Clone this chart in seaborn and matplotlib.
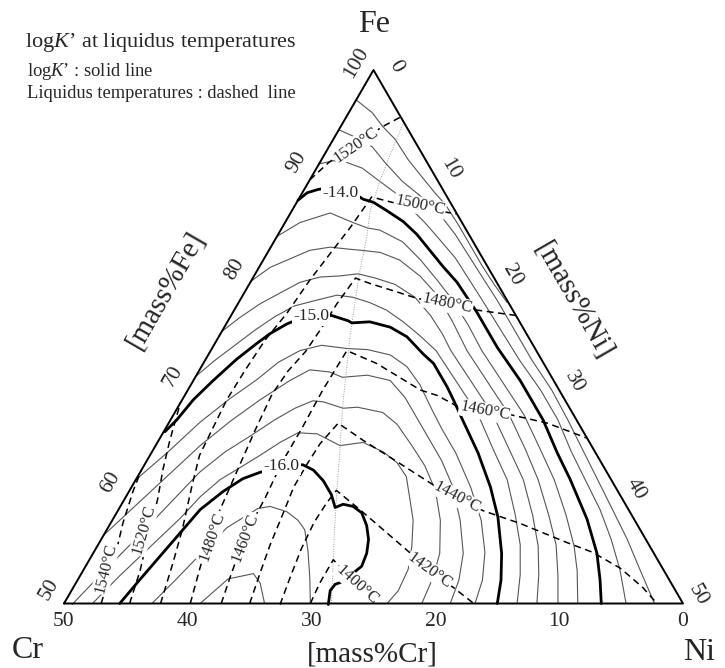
import numpy as np
import matplotlib
matplotlib.use("Agg")
import matplotlib.pyplot as plt
import seaborn as sns

# ---------------- data: compositions in mass% (Fe = balance) ----------------
# logK' contour lines (Cr, Ni)
k134_cr = [2.8, 2.1, 1.9, 1.5, 1.4, 1.1, 0.8, 0.5, 0.4, 0.4, 0.4, 0.3, 0.1]
k134_ni = [0.0, 1.9, 3.4, 5.0, 7.0, 8.9, 10.7, 12.1, 14.1, 16.0, 17.9, 19.8, 21.7]
k136_cr = [5.6, 4.6, 3.7, 3.4, 2.9, 1.9, 1.4, 1.1, 1.0, 0.9, 0.8, 0.8, 0.8, 0.6, 0.7, 0.9, 1.1, 1.3, 1.5, 1.9, 2.3]
k136_ni = [0.0, 1.7, 3.5, 5.3, 7.5, 10.3, 12.2, 14.3, 16.6, 18.8, 20.8, 23.5, 26.4, 29.4, 32.1, 34.7, 37.4, 40.0, 42.5, 45.0, 47.7]
k138_cr = [8.8, 7.5, 6.6, 5.5, 4.8, 4.0, 3.5, 3.0, 2.6, 2.2, 2.1, 2.0, 1.9, 1.8, 1.5, 1.5, 1.9, 2.1, 2.3, 2.8, 3.5, 4.6]
k138_ni = [0.0, 1.0, 2.0, 3.7, 5.5, 7.5, 9.4, 11.3, 13.3, 15.4, 17.4, 19.6, 22.5, 25.4, 28.5, 31.3, 33.8, 36.3, 38.9, 41.2, 43.3, 45.4]
k140_cr = [12.2, 11.1, 10.1, 9.0, 7.9, 7.3, 6.9, 6.2, 5.5, 4.7, 4.2, 3.9, 3.6, 3.2, 3.1, 3.0, 3.0, 2.7, 2.7, 3.1, 3.3, 3.8, 4.6, 5.6, 6.6]
k140_ni = [0.0, 0.4, 1.1, 2.0, 3.3, 4.3, 5.2, 6.2, 7.7, 9.5, 11.2, 13.0, 14.8, 16.7, 18.2, 19.7, 23.0, 26.4, 30.1, 32.8, 35.1, 38.3, 40.7, 42.2, 43.4]
k142_cr = [15.6, 13.1, 10.2, 8.8, 7.9, 7.0, 5.7, 5.1, 4.7, 4.4, 4.3, 4.4, 4.2, 4.0, 4.3, 4.6, 5.3, 6.1, 7.0, 8.5]
k142_ni = [0.0, 1.2, 3.2, 5.5, 6.9, 8.0, 10.4, 12.7, 15.0, 17.1, 19.6, 21.9, 25.1, 28.3, 31.2, 33.8, 36.4, 38.5, 39.9, 41.5]
k144_cr = [19.8, 17.6, 15.6, 13.6, 11.8, 10.3, 9.4, 8.0, 6.8, 5.9, 5.4, 5.4, 5.6, 5.4, 5.2, 5.5, 5.9, 6.7, 7.5, 8.8, 10.1]
k144_ni = [0.0, 0.9, 2.1, 3.3, 4.8, 6.5, 7.5, 9.1, 11.0, 13.4, 15.7, 18.1, 20.7, 23.9, 27.1, 30.0, 32.5, 35.0, 37.0, 38.6, 39.9]
k146_cr = [24.5, 22.4, 20.1, 18.0, 15.9, 14.0, 12.4, 10.8, 9.6, 8.3, 7.3, 6.9, 6.8, 6.9, 6.7, 6.5, 6.8, 7.1, 8.0, 9.0, 10.3, 11.8]
k146_ni = [0.0, 0.8, 1.8, 2.9, 4.0, 5.4, 6.9, 8.3, 9.9, 11.8, 14.0, 16.1, 17.9, 19.4, 22.6, 25.8, 28.6, 31.3, 33.7, 35.6, 37.0, 38.2]
k148_cr = [28.7, 26.4, 24.1, 21.8, 19.5, 17.4, 15.5, 13.5, 12.3, 11.2, 10.2, 9.4, 8.7, 8.1, 7.9, 7.7, 8.1, 8.4, 9.4, 10.4, 11.8, 13.4]
k148_ni = [0.0, 0.8, 1.7, 2.6, 3.6, 4.7, 6.1, 7.6, 9.0, 10.6, 12.3, 14.2, 16.2, 18.2, 21.4, 24.6, 27.4, 30.0, 32.3, 34.1, 35.5, 36.6]
k150_cr = [33.8, 32.3, 30.0, 27.5, 24.6, 22.2, 20.7, 18.9, 17.6, 16.2, 14.9, 13.8, 13.6, 12.1, 10.7, 9.8, 9.3, 8.9, 8.9, 9.0, 9.2, 9.5, 10.1, 10.9, 12.3, 13.6, 15.0]
k150_ni = [0.1, 0.5, 0.9, 1.6, 2.5, 3.4, 4.0, 4.9, 5.7, 6.8, 8.1, 9.7, 10.1, 11.5, 13.4, 15.2, 17.3, 18.6, 20.8, 21.9, 23.6, 26.4, 29.0, 31.0, 33.0, 34.2, 35.0]
k152_cr = [38.4, 34.5, 30.5, 27.0, 23.9, 21.4, 19.1, 17.1, 15.2, 13.6, 12.0, 11.2, 11.0, 11.2, 11.3, 11.3, 11.7, 12.4, 13.6, 15.1, 16.8]
k152_ni = [0.0, 1.3, 2.5, 3.8, 5.1, 6.0, 7.2, 8.7, 10.9, 12.6, 14.7, 16.6, 18.5, 20.7, 22.4, 24.6, 27.4, 29.8, 31.6, 32.7, 33.2]
k154_cr = [43.6, 37.6, 31.6, 28.0, 24.6, 21.3, 19.2, 17.7, 16.9, 14.8, 13.2, 12.8, 12.8, 12.8, 12.8, 13.1, 14.1, 15.4, 17.0, 18.8]
k154_ni = [0.0, 1.8, 3.6, 4.9, 6.3, 7.8, 8.9, 10.6, 11.9, 13.8, 15.9, 17.9, 20.0, 21.9, 23.8, 25.8, 28.1, 29.9, 30.8, 31.2]
k156_cr = [49.4, 45.3, 41.1, 37.0, 32.9, 29.9, 27.1, 24.4, 22.2, 20.4, 19.6, 18.3, 17.1, 15.3, 14.7, 14.5, 14.4, 14.7, 15.7, 17.3, 19.0, 21.1]
k156_ni = [0.7, 1.7, 2.8, 3.8, 4.8, 5.9, 7.2, 8.4, 9.5, 10.6, 11.5, 13.4, 14.5, 16.8, 18.5, 20.7, 22.7, 24.7, 26.5, 28.0, 28.6, 28.9]
k158_cr = [47.7, 44.2, 40.4, 36.6, 34.0, 31.6, 29.1, 27.2, 25.0, 23.1, 21.6, 20.3, 18.3, 17.1, 16.5, 16.4, 17.2, 17.9, 19.2, 20.6, 22.4, 23.9]
k158_ni = [2.3, 3.2, 4.3, 5.4, 6.0, 6.8, 8.0, 8.9, 9.9, 10.9, 12.5, 14.9, 16.6, 18.7, 20.3, 21.7, 23.1, 24.3, 25.4, 26.2, 26.4, 26.1]
k160_cr = [45.5, 42.8, 38.2, 34.6, 31.9, 29.7, 28.0, 26.0, 24.2, 23.6, 23.3, 23.3, 23.6, 22.8, 22.1, 21.7, 21.9, 22.4, 23.2, 24.2, 25.6, 26.6, 27.2, 27.9, 28.7]
k160_ni = [4.5, 5.0, 5.9, 6.6, 7.6, 8.6, 9.7, 11.1, 12.8, 13.9, 15.2, 16.5, 17.4, 17.9, 18.8, 19.8, 20.8, 21.6, 22.1, 22.3, 21.8, 21.4, 21.0, 20.9, 21.4]
k162_cr = [42.9, 39.9, 36.7, 33.3, 31.6, 29.9, 28.8, 27.7, 27.2, 27.1, 27.8, 28.9, 30.1]
k162_ni = [7.1, 7.9, 8.7, 9.6, 10.4, 11.2, 12.1, 13.7, 15.0, 16.0, 17.2, 18.6, 19.9]
k164_cr = [39.0, 35.6, 33.3, 33.2, 33.8]
k164_ni = [11.0, 12.1, 13.9, 14.9, 16.2]

# liquidus isotherms (Cr, Ni)
t1540_cr = [47.0, 44.1, 41.5, 39.1, 37.5]
t1540_ni = [3.0, 2.1, 1.0, 0.3, 0.0]
t1520a_cr = [44.7, 42.3, 39.5, 37.6, 35.7, 33.8, 31.2]
t1520a_ni = [5.3, 4.6, 3.4, 2.7, 1.7, 0.9, 0.0]
t1520b_cr = [10.3, 8.0, 6.1, 3.8, 1.7, 0.0]
t1520b_ni = [0.0, 0.7, 1.5, 2.5, 3.5, 4.4]
t1500_cr = [42.2, 39.3, 37.0, 34.1, 32.1, 29.7, 27.3, 24.4, 21.4, 18.4, 15.0, 12.1, 9.3, 6.1, 4.7, 2.7, 0.0]
t1500_ni = [7.8, 6.9, 6.1, 4.8, 4.0, 3.8, 3.6, 3.7, 3.9, 4.4, 4.7, 5.1, 5.5, 5.8, 7.7, 10.2, 13.5]
t1480_cr = [39.8, 37.3, 34.5, 32.2, 29.3, 26.3, 23.4, 21.0, 18.7, 16.2, 13.9, 11.2, 10.3, 8.5, 7.2, 5.0, 2.9, 0.0]
t1480_ni = [10.2, 9.3, 8.4, 8.1, 7.7, 7.3, 7.0, 7.2, 7.7, 7.9, 8.0, 8.3, 9.7, 12.3, 14.2, 16.9, 19.6, 23.0]
t1460_cr = [37.3, 35.4, 33.3, 31.1, 28.8, 25.8, 22.4, 19.1, 15.3, 13.5, 12.3, 11.2, 10.1, 9.0, 7.0, 5.1, 2.5, 0.0]
t1460_ni = [12.7, 12.2, 11.7, 11.4, 11.3, 11.0, 11.0, 10.9, 11.0, 14.0, 16.5, 18.8, 20.4, 22.5, 25.0, 27.2, 30.6, 34.5]
t1440_cr = [35.0, 32.7, 30.6, 28.2, 26.0, 23.8, 21.8, 19.4, 18.2, 16.8, 14.6, 13.3, 11.8, 9.4, 6.5, 4.9, 3.4, 2.5, 2.1]
t1440_ni = [15.0, 14.4, 13.9, 13.5, 13.1, 13.1, 13.2, 13.7, 16.5, 19.5, 24.3, 26.8, 29.5, 33.1, 37.8, 40.3, 43.3, 46.0, 47.9]
t1420_cr = [32.6, 30.3, 28.2, 26.0, 24.1, 22.7, 21.7, 20.6, 19.8, 18.9, 17.8, 16.9]
t1420_ni = [17.5, 17.0, 16.6, 16.4, 16.5, 16.7, 19.5, 22.8, 25.2, 28.0, 30.7, 33.1]
t1400_cr = [30.1, 28.4, 26.2, 25.5, 24.6]
t1400_ni = [19.9, 19.7, 19.7, 22.5, 25.4]

# primary-phase boundary (dotted)
phase_cr = [0.0, 2.0, 4.6, 6.8, 8.4, 10.5, 12.4, 14.4, 15.7, 18.3, 20.4, 22.6, 24.7, 26.2, 28.4]
phase_ni = [4.9, 5.2, 5.7, 6.3, 7.3, 8.3, 9.4, 10.6, 11.5, 13.3, 15.0, 16.7, 18.4, 19.7, 21.6]

# labels
klabel_text = ["-14.0", "-15.0", "-16.0"]
klabel_cr = [8.4, 16.6, 26.0]
klabel_ni = [3.1, 6.5, 11.1]
tlabel_text = ["1520°C", "1500°C", "1480°C", "1460°C", "1440°C", "1420°C", "1400°C",
               "1540°C", "1520°C", "1480°C", "1460°C"]
tlabel_cr = [4.9, 2.6, 5.0, 7.0, 13.3, 18.9, 25.5, 45.0, 40.1, 34.9, 32.3]
tlabel_ni = [2.1, 10.1, 16.9, 25.0, 26.8, 28.0, 22.8, 1.7, 3.0, 8.8, 11.5]

cr_ticks = [50, 40, 30, 20, 10, 0]
fe_ticks = [50, 60, 70, 80, 90, 100]
ni_ticks = [0, 10, 20, 30, 40, 50]

# ---------------- drawing ----------------
H = np.sqrt(3) / 2


def to_xy(cr, ni):
    cr = np.asarray(cr, float)
    ni = np.asarray(ni, float)
    return (50 - cr + ni) / 100, (50 - cr - ni) / 50 * H


sns.set_theme(style="white")
plt.rcParams['font.family'] = ['Liberation Serif', 'DejaVu Serif']
plt.rcParams['mathtext.fontset'] = 'custom'
plt.rcParams['mathtext.rm'] = 'Liberation Serif'
plt.rcParams['mathtext.it'] = 'Liberation Serif:italic'

fig = plt.figure(figsize=(7.25, 6.68), dpi=100)
ax = fig.add_axes([0, 0, 1, 1])
ax.set_xlim(-64 / 619, 661 / 619)
ax.set_ylim(-64.5 / 616, 603.5 / 616)
ax.axis('off')


def draw(cr, ni, **kw):
    x, y = to_xy(cr, ni)
    sns.lineplot(x=x, y=y, sort=False, estimator=None, ax=ax, legend=False, **kw)


thin = [(k134_cr, k134_ni), (k136_cr, k136_ni), (k138_cr, k138_ni),
        (k142_cr, k142_ni), (k144_cr, k144_ni), (k146_cr, k146_ni), (k148_cr, k148_ni),
        (k152_cr, k152_ni), (k154_cr, k154_ni), (k156_cr, k156_ni), (k158_cr, k158_ni),
        (k162_cr, k162_ni), (k164_cr, k164_ni)]
thick = [(k140_cr, k140_ni), (k150_cr, k150_ni), (k160_cr, k160_ni)]
dashed = [(t1540_cr, t1540_ni), (t1520a_cr, t1520a_ni), (t1520b_cr, t1520b_ni),
          (t1500_cr, t1500_ni), (t1480_cr, t1480_ni), (t1460_cr, t1460_ni),
          (t1440_cr, t1440_ni), (t1420_cr, t1420_ni), (t1400_cr, t1400_ni)]

for c, n in thin:
    draw(c, n, color='#555555', linewidth=0.8, zorder=2)
for c, n in thick:
    draw(c, n, color='black', linewidth=2.0, zorder=3)
draw(phase_cr, phase_ni, color='#9a9a9a', linewidth=0.7, linestyle=(0, (1, 1.5)), zorder=2)
for c, n in dashed:
    draw(c, n, color='black', linewidth=1.1, linestyle=(0, (4.5, 3)), zorder=3)

# triangle frame
draw([50, 0, 0, 50], [0, 50, 0, 0], color='black', linewidth=1.4, zorder=6)

# contour labels
lab_box = dict(facecolor='white', edgecolor='none', pad=1.0)
for t, c, n in zip(klabel_text, klabel_cr, klabel_ni):
    x, y = to_xy(c, n)
    ax.text(x, y, t, ha='center', va='center', fontsize=12.5, bbox=lab_box, zorder=5)

tlabel_rot = [35, -12, -12, -11, -28, -36, -42, 76, 74, 71, 69]
for t, c, n, r in zip(tlabel_text, tlabel_cr, tlabel_ni, tlabel_rot):
    x, y = to_xy(c, n)
    ax.text(x, y, t, ha='center', va='center', fontsize=12, rotation=r,
            rotation_mode='anchor', bbox=dict(facecolor='white', edgecolor='none', pad=0.6), zorder=5)

# tick labels
for v in cr_ticks:
    x, y = to_xy(v, 50 - v)
    ax.annotate(str(v), (x, y), xytext=(0, -18), textcoords='offset pixels',
                ha='center', va='center', fontsize=15.5)
for v in fe_ticks:
    x, y = to_xy(100 - v, 0)
    off = (-17, 7) if v == 100 else (-15, 14)
    ax.annotate(str(v), (x, y), xytext=off, textcoords='offset pixels',
                ha='center', va='center', fontsize=15.5, rotation=60)
for v in ni_ticks:
    x, y = to_xy(0, v)
    off = (22, 4) if v == 0 else (15, 8)
    ax.annotate(str(v), (x, y), xytext=off, textcoords='offset pixels',
                ha='center', va='center', fontsize=15.5, rotation=-60)

# corner and axis titles (pixel positions in the 725x668 canvas)
W, Hpx = 725.0, 668.0


def ftext(px, py, s, **kw):
    fig.text(px / W, 1 - py / Hpx, s, **kw)


ftext(374, 25, "Fe", ha='center', va='center', fontsize=23)
ftext(28, 651, "Cr", ha='center', va='center', fontsize=23)
ftext(699, 653, "Ni", ha='center', va='center', fontsize=23)
ftext(372, 654, "[mass%Cr]", ha='center', va='center', fontsize=21)
ftext(166, 290, "[mass%Fe]", ha='center', va='center', fontsize=21, rotation=60)
ftext(574, 301, "[mass%Ni]", ha='center', va='center', fontsize=21, rotation=-60)

ftext(25, 42, "log$K$\u2019 at liquidus temperatures", ha='left', va='center', fontsize=16)
ftext(27, 72, "log$K$\u2019 : solid line", ha='left', va='center', fontsize=13.3)
ftext(27, 94, "Liquidus temperatures : dashed  line", ha='left', va='center', fontsize=13.3)

fig.savefig("out.png", dpi=100, facecolor='white')
